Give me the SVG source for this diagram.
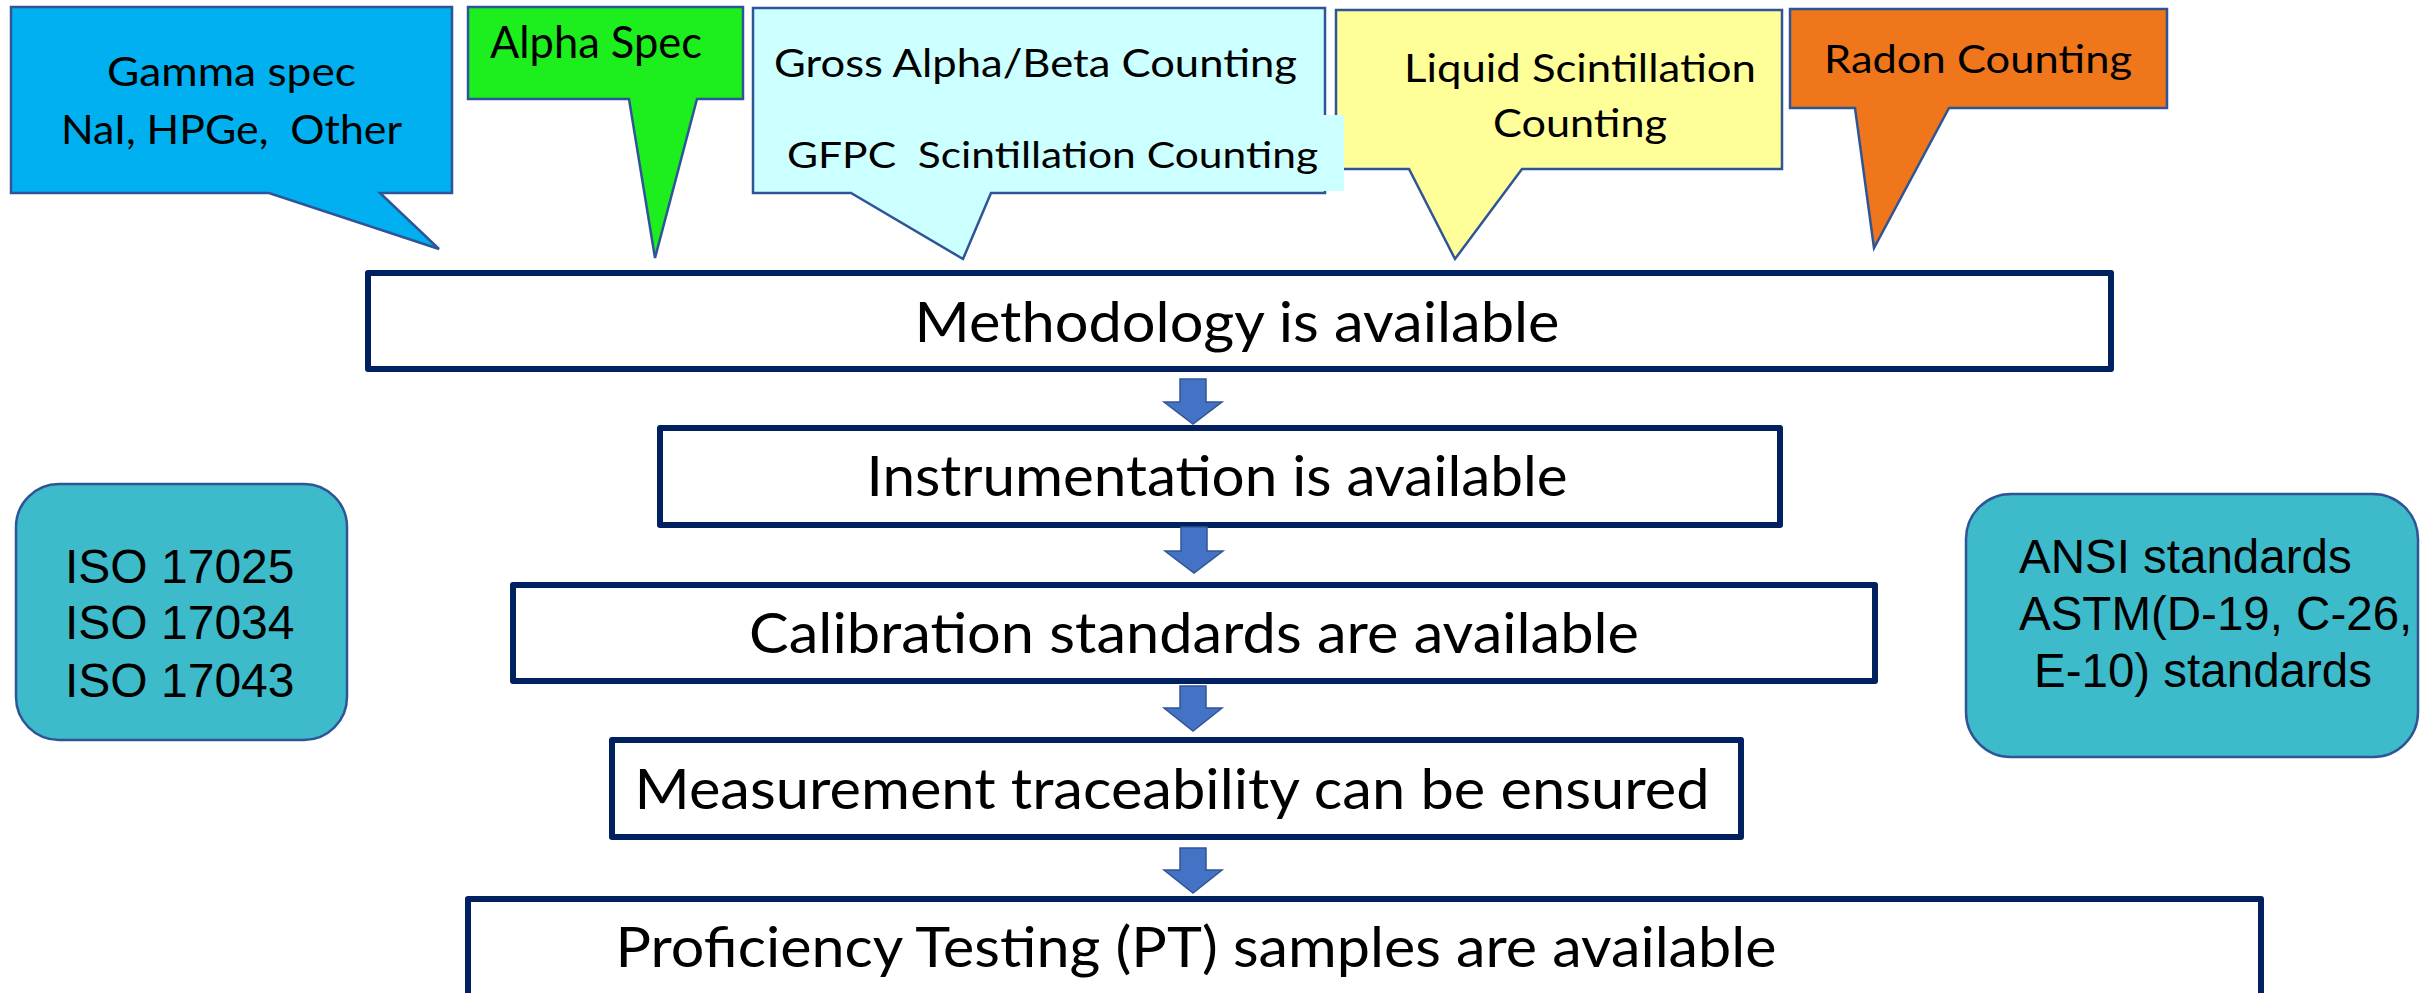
<svg xmlns="http://www.w3.org/2000/svg" width="2422" height="993" viewBox="0 0 2422 993">
<style>
.box{fill:#FFFFFF;stroke:#002060;stroke-width:6;stroke-linejoin:round}
.call{stroke:#2F5597;stroke-width:2.5;stroke-linejoin:miter}
.std{fill:#3DBBCB;stroke:#2F5597;stroke-width:2.5}
.arr{fill:#4472C4;stroke:#2F5597;stroke-width:1.5;stroke-linejoin:miter}
.t{font-family:Lato,"Open Sans","Liberation Sans",sans-serif;fill:#000;white-space:pre}
.bt{font-family:Lato,"Open Sans","Liberation Sans",sans-serif;font-size:56px;fill:#000;text-anchor:middle}
.a{font-family:"Liberation Sans",Arial,sans-serif;fill:#000;white-space:pre}
</style>
<rect width="2422" height="993" fill="#FFFFFF"/>

<g id="gamma-callout">
<path class="call" fill="#00B0F0" d="M11,7 H452 V193 H380 L439,249 L269,193 H11 Z"/>
<text class="t" x="107" y="86" font-size="40" textLength="249" lengthAdjust="spacingAndGlyphs">Gamma spec</text>
<text class="t" x="61" y="144" font-size="40" textLength="341" lengthAdjust="spacingAndGlyphs">NaI, HPGe,  Other</text>
</g>

<g id="alpha-callout">
<path class="call" fill="#1DEE1D" d="M468,7 H743 V99 H697 L655,258 L629,99 H468 Z"/>
<text class="t" x="490" y="58" font-size="44" textLength="212" lengthAdjust="spacingAndGlyphs">Alpha Spec</text>
</g>

<g id="liquid-callout">
<path class="call" fill="#FFFF99" d="M1336,10 H1782 V169 H1522 L1455,259 L1409,169 H1336 Z"/>
<text class="t" x="1404" y="82" font-size="38" textLength="352" lengthAdjust="spacingAndGlyphs">Liquid Scintillation</text>
<text class="t" x="1493" y="137" font-size="38" textLength="174" lengthAdjust="spacingAndGlyphs">Counting</text>
</g>

<g id="gross-callout">
<path class="call" fill="#CCFFFF" d="M753,8 H1325 V193 H991 L963,259 L851,193 H753 Z"/>
<rect x="766" y="115" width="578" height="76" fill="#CCFFFF"/>
<text class="t" x="774" y="77" font-size="38" textLength="523" lengthAdjust="spacingAndGlyphs">Gross Alpha/Beta Counting</text>
<text class="t" x="787" y="168" font-size="37" textLength="531" lengthAdjust="spacingAndGlyphs">GFPC  Scintillation Counting</text>
</g>

<g id="radon-callout">
<path class="call" fill="#EF761B" d="M1790,9 H2167 V108 H1949 L1874,248 L1855,108 H1790 Z"/>
<text class="t" x="1824" y="73" font-size="39" textLength="308" lengthAdjust="spacingAndGlyphs">Radon Counting</text>
</g>

<g id="methodology">
<rect class="box" x="368" y="273" width="1743" height="96"/>
<text class="bt" x="1237" y="342" textLength="645" lengthAdjust="spacingAndGlyphs">Methodology is available</text>
</g>

<g id="instrumentation">
<rect class="box" x="660" y="428" width="1120" height="97"/>
<text class="bt" x="1217" y="496" textLength="701" lengthAdjust="spacingAndGlyphs">Instrumentation is available</text>
</g>

<g id="calibration">
<rect class="box" x="513" y="585" width="1362" height="96"/>
<text class="bt" x="1194" y="653" textLength="890" lengthAdjust="spacingAndGlyphs">Calibration standards are available</text>
</g>

<g id="measurement">
<rect class="box" x="612" y="740" width="1129" height="97"/>
<text class="bt" x="1172" y="809" textLength="1075" lengthAdjust="spacingAndGlyphs">Measurement traceability can be ensured</text>
</g>

<g id="proficiency">
<rect class="box" x="468" y="899" width="1793" height="200"/>
<text class="bt" x="1196" y="967" textLength="1161" lengthAdjust="spacingAndGlyphs">Proficiency Testing (PT) samples are available</text>
</g>

<g id="iso">
<rect class="std" x="16" y="484" width="331" height="256" rx="43" ry="43"/>
<text class="a" x="65" y="583" font-size="48">ISO 17025</text>
<text class="a" x="65" y="639" font-size="48">ISO 17034</text>
<text class="a" x="65" y="697" font-size="48">ISO 17043</text>
</g>

<g id="ansi">
<rect class="std" x="1966" y="494" width="452" height="263" rx="45" ry="45"/>
<text class="a" x="2019" y="573" font-size="47.5">ANSI standards</text>
<text class="a" x="2019" y="630" font-size="47.5">ASTM(D-19, C-26,</text>
<text class="a" x="2034" y="687" font-size="47.5">E-10) standards</text>
</g>

<g id="connectors">
<path class="arr" d="M1180,379 H1206 V402 H1222 L1193,424 L1164,402 H1180 Z"/>
<path class="arr" d="M1181,527 H1207 V551 H1223 L1194,573 L1165,551 H1181 Z"/>
<path class="arr" d="M1180,686 H1206 V708 H1222 L1193,731 L1164,708 H1180 Z"/>
<path class="arr" d="M1180,848 H1206 V870 H1222 L1193,893 L1164,870 H1180 Z"/>
</g>
</svg>
